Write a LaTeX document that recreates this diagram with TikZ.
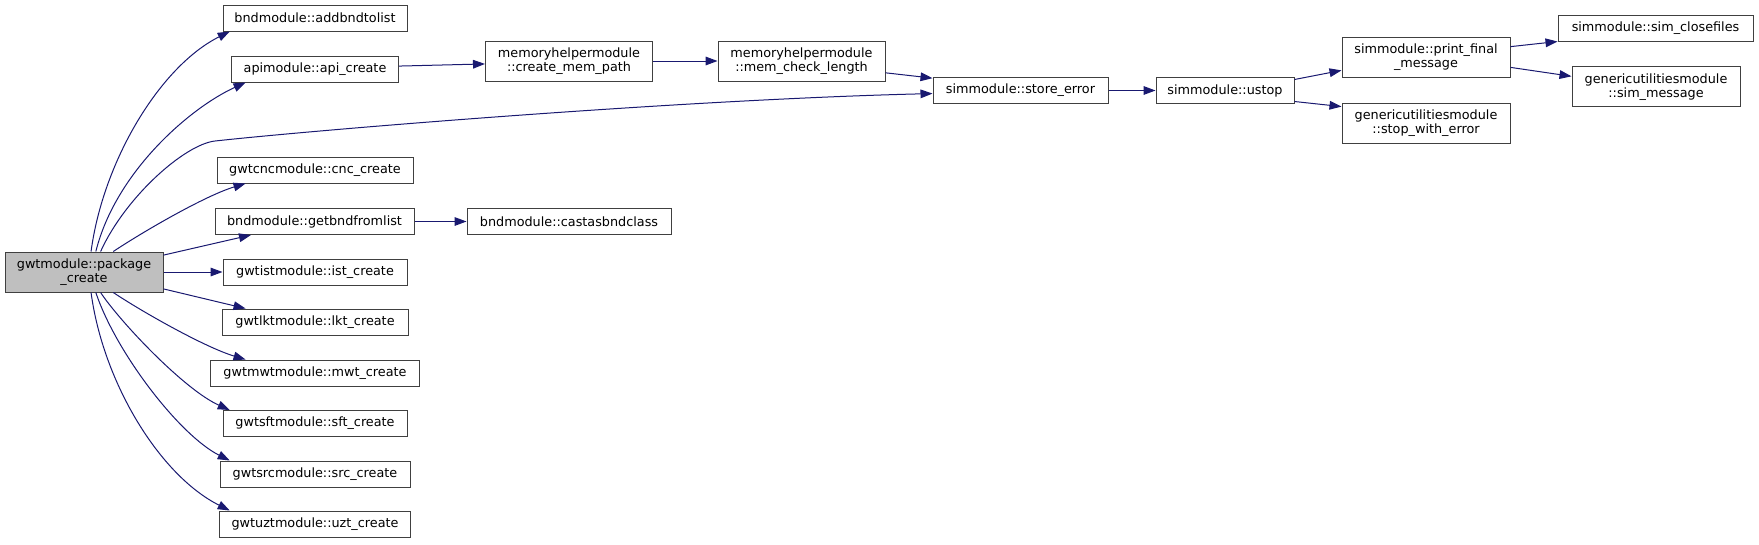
\documentclass[tikz,border=0pt]{standalone}
\usepackage{fontspec}
\setmainfont{DejaVu Sans}
\usepackage{xcolor}
\usetikzlibrary{arrows.meta}

\definecolor{edgeblue}{HTML}{191970}
\definecolor{boxgrey}{HTML}{404040}
\definecolor{rootfill}{HTML}{BFBFBF}

\begin{document}
\begin{tikzpicture}[
  x=0.75pt, y=-0.75pt,
  font=\fontsize{9.6}{10.5}\selectfont,
  fn/.style={draw=boxgrey, fill=white, line width=0.75pt, inner sep=0pt,
    minimum height=19.5pt, align=center},
  fntwo/.style={fn, minimum height=30pt},
  rootfn/.style={fntwo, fill=rootfill},
  calls/.style={draw=edgeblue, line width=0.75pt,
    -{Triangle[length=9pt, width=6.5pt]}},
]
\useasboundingbox (0,0) rectangle (1759,544);

% caller
\node[rootfn, minimum width=118.5pt] (pkg) at (84,272) {gwtmodule::package\\\_create};

% direct callees
\node[fn, minimum width=138pt]    (addbnd) at (315,18)    {bndmodule::addbndtolist};
\node[fn, minimum width=125.25pt] (api)    at (315,69)    {apimodule::api\_create};
\node[fn, minimum width=147pt]    (cnc)    at (315,170)   {gwtcncmodule::cnc\_create};
\node[fn, minimum width=149.25pt] (getbnd) at (314.5,221.5) {bndmodule::getbndfromlist};
\node[fn, minimum width=138pt]    (ist)    at (315,272)   {gwtistmodule::ist\_create};
\node[fn, minimum width=139.5pt]  (lkt)    at (315,322)   {gwtlktmodule::lkt\_create};
\node[fn, minimum width=156.75pt] (mwt)    at (315,373)   {gwtmwtmodule::mwt\_create};
\node[fn, minimum width=138pt]    (sft)    at (315,423.5) {gwtsftmodule::sft\_create};
\node[fn, minimum width=142.5pt]  (src)    at (315,474)   {gwtsrcmodule::src\_create};
\node[fn, minimum width=143.25pt] (uzt)    at (315,524)   {gwtuztmodule::uzt\_create};

% deeper callees
\node[fntwo, minimum width=125.25pt] (cmp) at (569,61) {memoryhelpermodule\\::create\_mem\_path};
\node[fntwo, minimum width=125.25pt] (mcl) at (801.5,61) {memoryhelpermodule\\::mem\_check\_length};
\node[fn, minimum width=153pt] (castas) at (569,221.5) {bndmodule::castasbndclass};
\node[fn, minimum width=131.25pt] (store) at (1020.5,90.5) {simmodule::store\_error};
\node[fn, minimum width=103.5pt] (ustop) at (1225,90.5) {simmodule::ustop};
\node[fntwo, minimum width=126pt] (pfm) at (1426,57) {simmodule::print\_final\\\_message};
\node[fntwo, minimum width=126pt] (swe) at (1426,123) {genericutilitiesmodule\\::stop\_with\_error};
\node[fn, minimum width=146.25pt] (scf) at (1655.5,28) {simmodule::sim\_closefiles};
\node[fntwo, minimum width=126pt] (smsg) at (1656,86.7) {genericutilitiesmodule\\::sim\_message};

% calls from package_create
\coordinate (bend) at (215,141);
\draw[calls] (pkg.71.5) .. controls +(12,-90) and +(-70,35) .. (addbnd.189);
\draw[calls] (pkg.60) .. controls +(20,-80) and +(-55,25) .. (api.191);
\draw[calls] (pkg.51) .. controls +(25,-55) and +(-30,3.3) .. (bend)
  .. controls +(100,-11) and +(-250,6) .. (store.182);
\draw[calls] (pkg.35) .. controls +(30,-20) and +(-40,12) .. (cnc.191);
\draw[calls] (pkg.12.6) -- (getbnd.192);
\draw[calls] (pkg.east) -- (ist.west);
\draw[calls] (pkg.-12.8) -- (lkt.169);
\draw[calls] (pkg.-35) .. controls +(30,20) and +(-40,-12) .. (mwt.169);
\draw[calls] (pkg.-51) .. controls +(20,30) and +(-45,-20) .. (sft.171);
\draw[calls] (pkg.-60) .. controls +(20,60) and +(-50,-25) .. (src.171.5);
\draw[calls] (pkg.-71.5) .. controls +(12,90) and +(-70,-35) .. (uzt.171);

% further calls
\draw[calls] (api.2) -- (cmp.182);
\draw[calls] (cmp.east) -- (mcl.west);
\draw[calls] (mcl.-8) -- (store.172);
\draw[calls] (getbnd.east) -- (castas.west);
\draw[calls] (store.east) -- (ustop.west);
\draw[calls] (ustop.9.5) -- (pfm.189);
\draw[calls] (ustop.-9.2) -- (swe.169.4);
\draw[calls] (pfm.7.3) -- (scf.south west);
\draw[calls] (pfm.-7.5) -- (smsg.173.6);
\end{tikzpicture}
\end{document}
